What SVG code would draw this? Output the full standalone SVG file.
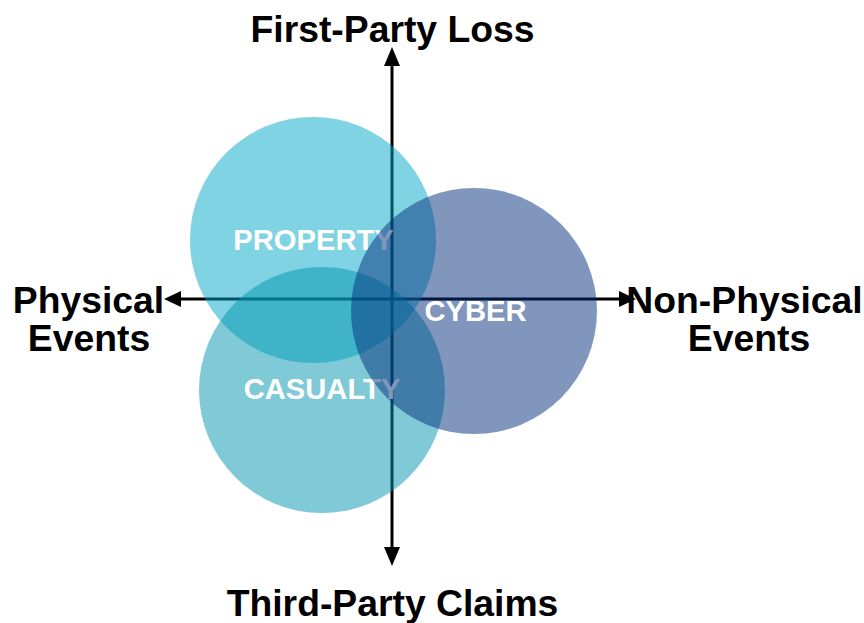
<svg xmlns="http://www.w3.org/2000/svg" width="864" height="623" viewBox="0 0 864 623">
  <style>
    .axis { stroke: #000; stroke-width: 3; fill: none; }
    .head { fill: #000; }
    .label { font-family: "Liberation Sans", Arial, sans-serif; font-weight: bold; font-size: 37.3px; fill: #000; text-anchor: middle; }
    .tag { font-family: "Liberation Sans", Arial, sans-serif; font-weight: bold; font-size: 29.2px; fill: #fff; text-anchor: middle; }
    .property { fill: #00a8c8; fill-opacity: 0.5; }
    .casualty { fill: #0096ae; fill-opacity: 0.5; }
    .cyber { fill: #032d7b; fill-opacity: 0.5; }
  </style>

  <!-- axes with arrowheads -->
  <g id="connectors">
    <line class="axis" x1="392" y1="62" x2="392" y2="552"/>
    <polygon class="head" points="392,47 384,66 400,66"/>
    <polygon class="head" points="392,566 384,547 400,547"/>
    <line class="axis" x1="178" y1="299" x2="622" y2="299"/>
    <polygon class="head" points="164,299 181,291 181,307"/>
    <polygon class="head" points="636,299 619,291 619,307"/>
  </g>

  <!-- axis labels -->
  <g id="axis-labels">
    <text class="label" x="392.5" y="42">First-Party Loss</text>
    <text class="label" x="392.5" y="616">Third-Party Claims</text>
    <text class="label" x="88.5" y="313">Physical</text>
    <text class="label" x="89" y="351">Events</text>
    <text class="label" x="744.5" y="313">Non-Physical</text>
    <text class="label" x="749" y="351">Events</text>
  </g>

  <g id="property">
    <circle class="property" cx="313" cy="240" r="123"/>
    <text class="tag" x="313.5" y="250">PROPERTY</text>
  </g>

  <g id="casualty">
    <circle class="casualty" cx="322" cy="390" r="123"/>
    <text class="tag" x="322" y="399">CASUALTY</text>
  </g>

  <g id="cyber">
    <circle class="cyber" cx="474" cy="311" r="123"/>
    <text class="tag" x="475.5" y="321">CYBER</text>
  </g>
</svg>
